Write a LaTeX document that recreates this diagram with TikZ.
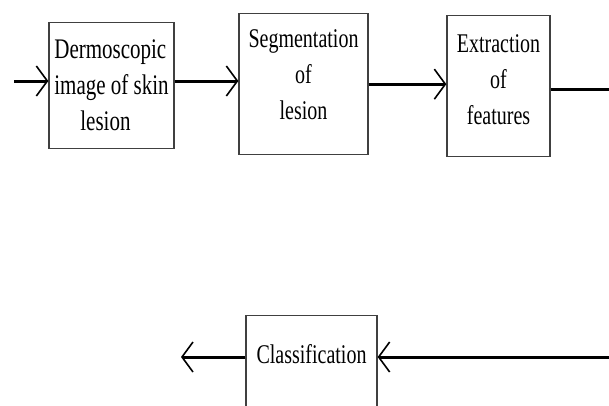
\documentclass[tikz,border=0pt]{standalone}
\usepackage{fontspec}
\setmainfont{Liberation Serif}
\usetikzlibrary{arrows.meta}
\newcommand{\tallstack}[2][c]{\scalebox{1}[1.35]{\begin{tabular}[t]{@{}#1@{}}#2\end{tabular}}}
\tikzset{
  stage/.style={draw=black!75, line width=1.3pt, inner sep=0pt, anchor=north,
    font=\fontsize{20}{26.7}\selectfont},
  flow/.style={line width=3pt, -{Straight Barb[length=11pt,width=30pt,line width=1.6pt]}},
  link/.style={line width=3pt},
}
\begin{document}
\begin{tikzpicture}[x=1pt,y=-1pt]
      \clip (0,0) rectangle (609,405);
      \draw
        (111.5,22) node[stage, minimum width=125pt, text height=36pt, text depth=90pt,
            font=\fontsize{21}{26.7}\selectfont] (b1)
          {\tallstack[l]{Dermoscopic\hspace{9pt}\\image of skin\\\hspace{26pt}lesion}}
        (303.5,13) node[stage, minimum width=129pt, text height=34pt, text depth=107pt] (b2)
          {\tallstack{Segmentation\\of\\lesion}}
        (498.5,15) node[stage, minimum width=103pt, text height=37pt, text depth=104pt] (b3)
          {\tallstack{Extraction\\of\\features}}
        (311.5,315) node[stage, minimum width=131pt, text height=48pt, text depth=62pt] (cl)
          {\tallstack{Classification}};
      \coordinate (in) at (14,81);
      \coordinate (turn) at (611,89);
      \coordinate (back) at (611,357);
      \coordinate (out) at (181,357);
      \begin{scope}
        \draw[flow] (in) -- (in -| b1.west);
        \draw[flow] (in -| b1.east) -- (in -| b2.west);
        \draw[flow] (b2.east) -- (b2.east -| b3.west);
        \draw[link] (b3.east |- turn) -- (turn) -- (back);
        \draw[flow] (back) -- (back -| cl.east);
        \draw[flow] (back -| cl.west) -- (out);
      \end{scope}
    \end{tikzpicture}
\end{document}
